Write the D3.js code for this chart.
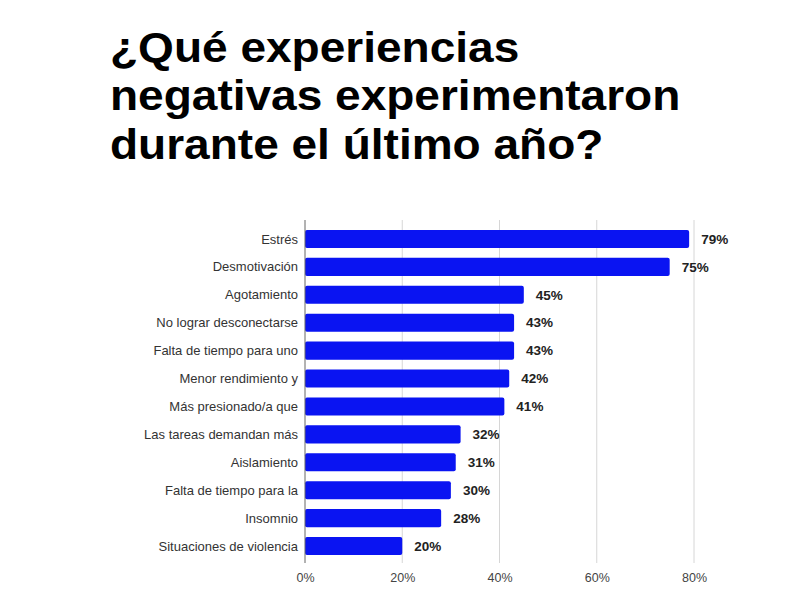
<!DOCTYPE html>
<html><head><meta charset="utf-8">
<script src="https://cdn.jsdelivr.net/npm/d3@7"></script>
<style>body{margin:0;background:#fff}svg{display:block}</style>
</head><body>
<script>
const titleLines = ["¿Qué experiencias", "negativas experimentaron", "durante el último año?"];
const categories = ["Estrés","Desmotivación","Agotamiento","No lograr desconectarse","Falta de tiempo para uno","Menor rendimiento y","Más presionado/a que","Las tareas demandan más","Aislamiento","Falta de tiempo para la","Insomnio","Situaciones de violencia"];
const values = [0.79,0.75,0.45,0.43,0.43,0.42,0.41,0.32,0.31,0.30,0.28,0.20];
const ticks = [0,0.2,0.4,0.6,0.8];

const W=800,H=598;
const svg=d3.select("body").append("svg").attr("width",W).attr("height",H);

const title=svg.append("g").attr("transform","translate(110,0) scale(1.096,1)")
  .append("text").attr("font-family","Liberation Sans, Arial, sans-serif")
  .attr("font-weight","bold").attr("font-size",42).attr("fill","#000");
titleLines.forEach((t,i)=>title.append("tspan").attr("x",0).attr("y",62+i*48.5).text(t));

const x=d3.scaleLinear().domain([0,0.8]).range([305,694]);
const y=d3.scaleBand().domain(categories).range([225,560]).paddingInner(0.355).paddingOuter(0.1775);

const g=svg.append("g");
g.selectAll("line.grid").data(ticks.filter(d=>d>0)).join("line")
  .attr("x1",d=>x(d)).attr("x2",d=>x(d)).attr("y1",220).attr("y2",563)
  .attr("stroke","#d6d6d6").attr("stroke-width",1);

g.selectAll("rect").data(values).join("rect")
  .attr("x",x(0)).attr("y",(d,i)=>y(categories[i]))
  .attr("width",d=>x(d)-x(0)).attr("height",y.bandwidth())
  .attr("rx",2).attr("fill","#0a14f2");

g.append("line").attr("x1",x(0)).attr("x2",x(0)).attr("y1",220).attr("y2",563)
  .attr("stroke","#666").attr("stroke-width",1);

g.selectAll("text.cat").data(categories).join("text")
  .attr("x",298).attr("y",d=>y(d)+y.bandwidth()/2).attr("dy","0.35em")
  .attr("text-anchor","end").attr("font-family","Liberation Sans, Arial, sans-serif")
  .attr("font-size",13).attr("fill","#333").text(d=>d);

g.selectAll("text.val").data(values).join("text")
  .attr("x",d=>x(d)+12).attr("y",(d,i)=>y(categories[i])+y.bandwidth()/2).attr("dy","0.35em")
  .attr("font-family","Liberation Sans, Arial, sans-serif").attr("font-weight","bold")
  .attr("font-size",13.5).attr("fill","#222").text(d=>d3.format(".0%")(d));

const xAxis=d3.axisBottom(x).tickValues(ticks).tickFormat(d3.format(".0%")).tickSize(0).tickPadding(0);
const ax=svg.append("g").attr("transform","translate(0,582)").call(xAxis);
ax.select(".domain").remove();
ax.selectAll("text").attr("font-family","Liberation Sans, Arial, sans-serif").attr("font-size",12.5).attr("fill","#444").attr("dy","0");
</script>
</body></html>
